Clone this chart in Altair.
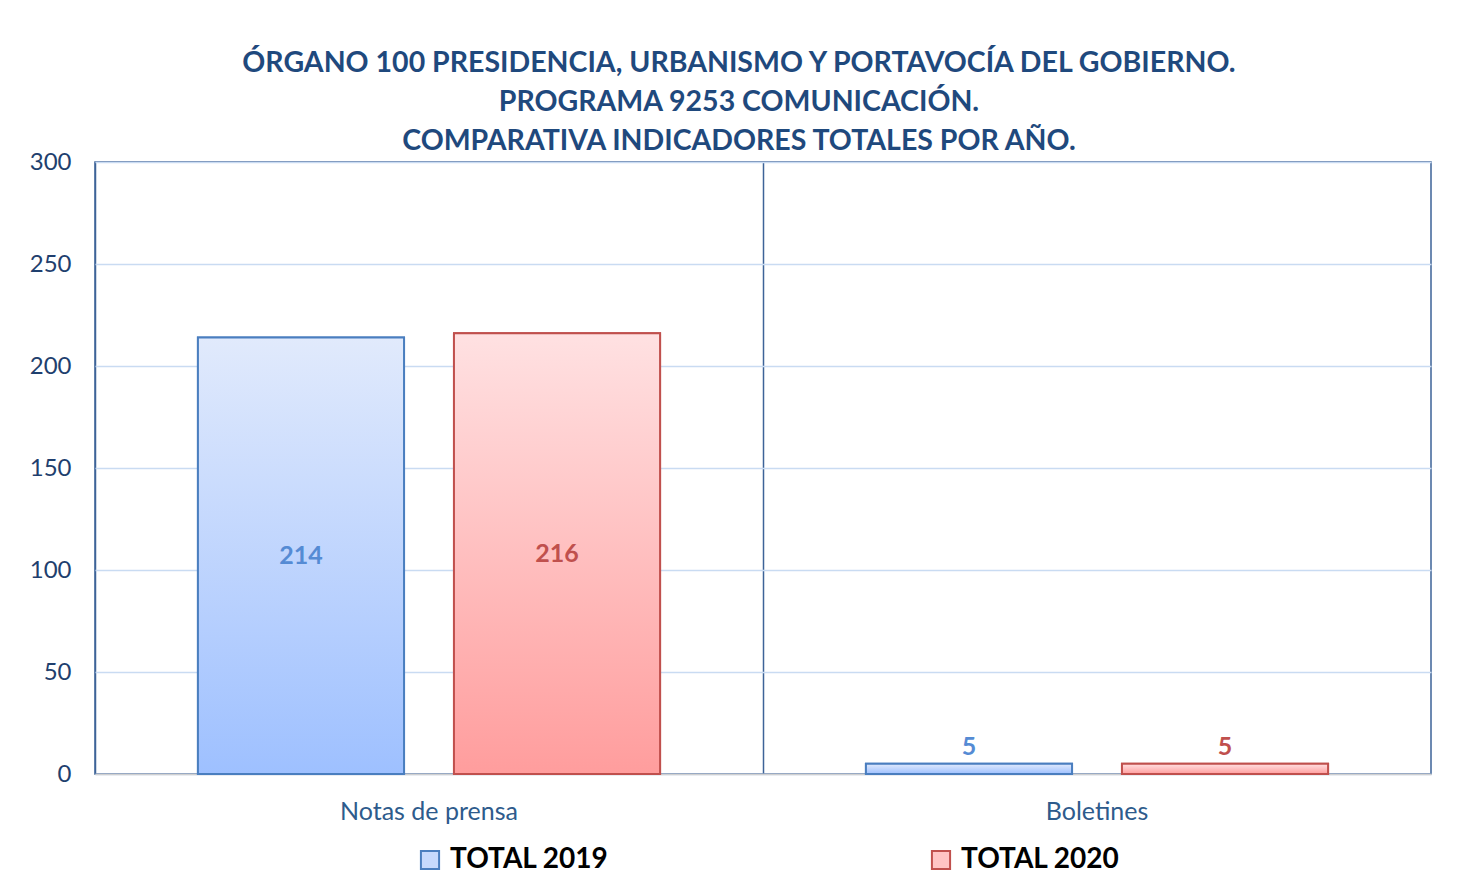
import altair as alt
import pandas as pd

categories = ["Notas de prensa", "Boletines"]
series = ["TOTAL 2019", "TOTAL 2020"]
values_2019 = [214, 5]
values_2020 = [216, 5]
y_ticks = [0, 50, 100, 150, 200, 250, 300]
title_lines = [
    "ÓRGANO 100 PRESIDENCIA, URBANISMO Y PORTAVOCÍA DEL GOBIERNO.",
    "PROGRAMA 9253 COMUNICACIÓN.",
    "COMPARATIVA INDICADORES TOTALES POR AÑO.",
]

rows = []
for c, v1, v2 in zip(categories, values_2019, values_2020):
    rows.append({"cat": c, "serie": series[0], "value": v1})
    rows.append({"cat": c, "serie": series[1], "value": v2})
df = pd.DataFrame(rows)

FONT = "Lato"
BLUE_STROKE = "#4a7ebf"
RED_STROKE = "#c0504d"
grad_blue = {"gradient": "linear", "x1": 0, "y1": 0, "x2": 0, "y2": 1,
             "stops": [{"offset": 0, "color": "#e1eafc"}, {"offset": 1, "color": "#9ec0ff"}]}
grad_red = {"gradient": "linear", "x1": 0, "y1": 0, "x2": 0, "y2": 1,
            "stops": [{"offset": 0, "color": "#ffe1e2"}, {"offset": 1, "color": "#ff9d9d"}]}

x_enc = alt.X("cat:N", sort=categories,
              scale=alt.Scale(paddingInner=0, paddingOuter=0),
              axis=alt.Axis(title=None, labelAngle=0, labelFontSize=25, labelColor="#2e5b8c",
                            labelFont=FONT, labelPadding=25, ticks=False,
                            domainColor="#d0d0d0", domainWidth=1.5,
                            grid=True, bandPosition=0, gridColor="#3d6398", gridWidth=1.5))
xo_enc = alt.XOffset("serie:N", sort=series,
                     scale=alt.Scale(paddingInner=0.195, paddingOuter=0.402))
y_axis = alt.Axis(title=None, values=y_ticks, labelFontSize=24, labelColor="#1f3f6e",
                  labelFont=FONT, labelPadding=24, ticks=False, domain=False,
                  grid=True, gridColor="#c9dbf2", gridWidth=1.5)
y_scale = alt.Scale(domain=[0, 300], nice=False)
y_enc = alt.Y("value:Q", scale=y_scale, axis=y_axis)

stroke_scale = alt.Scale(domain=series, range=[BLUE_STROKE, RED_STROKE])

legend_bars = alt.Chart(df).mark_bar(strokeWidth=2).encode(
    x=x_enc, xOffset=xo_enc, y=y_enc,
    fill=alt.Fill("serie:N", sort=series, scale=alt.Scale(domain=series, range=["#c6d9fd", "#ffc4c4"]),
                  legend=alt.Legend(title=None, orient="none", legendX=321, legendY=684)),
    stroke=alt.Stroke("serie:N", sort=series, scale=stroke_scale,
                      legend=alt.Legend(title=None, orient="none", legendX=321, legendY=684)),
)

grad_bars = alt.Chart(df).mark_bar(strokeWidth=2).encode(
    x=x_enc, xOffset=xo_enc, y=y_enc,
    fill=alt.condition(alt.datum.serie == series[0], alt.value(grad_blue), alt.value(grad_red)),
    stroke=alt.Stroke("serie:N", sort=series, scale=stroke_scale, legend=None),
)

labels = alt.Chart(df).transform_calculate(
    lab_y="datum.value > 50 ? datum.value / 2 : datum.value + 8"
).mark_text(fontSize=25, fontWeight="bold", font=FONT, baseline="middle").encode(
    x=x_enc, xOffset=xo_enc,
    y=alt.Y("lab_y:Q", scale=y_scale, axis=y_axis),
    text=alt.Text("value:Q"),
    color=alt.Color("serie:N", sort=series, scale=alt.Scale(domain=series, range=["#558bd4", "#c0504d"]),
                    legend=None),
)

chart = alt.layer(legend_bars, grad_bars, labels).properties(
    width=1336, height=612,
    autosize=alt.AutoSizeParams(type="none"),
    padding={"left": 87, "top": 154, "right": 20, "bottom": 100},
    title=alt.TitleParams(text=title_lines, fontSize=28.5, font=FONT, fontWeight="bold",
                          color="#1f497d", lineHeight=39, anchor="middle", frame="group",
                          dx=-24, offset=-5),
).configure_view(
    stroke="#3d6398", strokeWidth=1.5
).configure_legend(
    direction="horizontal", labelFontSize=28, labelFont=FONT,
    labelFontWeight="bold", labelColor="#000000", symbolType="square", symbolSize=330,
    symbolStrokeWidth=2, columnPadding=318, labelLimit=400, symbolOffset=0,
    labelOffset=6
)

chart.save("out.html", embed_options={"renderer": "svg", "actions": False})
